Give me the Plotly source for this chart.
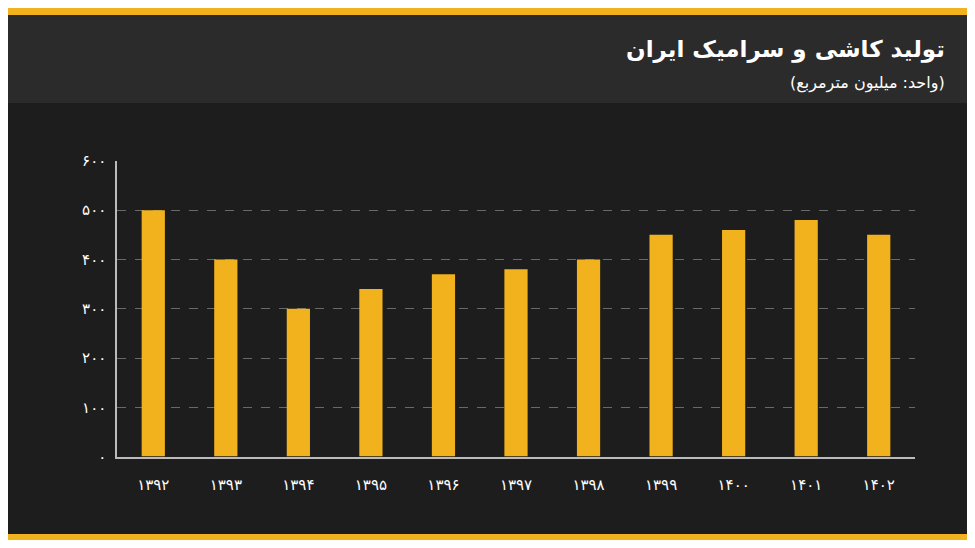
import plotly.graph_objects as go

years = ["۱۳۹۲","۱۳۹۳","۱۳۹۴","۱۳۹۵","۱۳۹۶","۱۳۹۷","۱۳۹۸","۱۳۹۹","۱۴۰۰","۱۴۰۱","۱۴۰۲"]
values = [500, 400, 300, 340, 370, 380, 400, 450, 460, 480, 450]
tick_vals = [0, 100, 200, 300, 400, 500, 600]
tick_text = ["۰","۱۰۰","۲۰۰","۳۰۰","۴۰۰","۵۰۰","۶۰۰"]

W, H = 975, 548
OFF = 8
FW, FH = W - 2 * OFF, H - 2 * OFF
def py(y): return 1 - (y - OFF) / FH
def px(x): return (x - OFF) / FW

fig = go.Figure(go.Bar(x=years, y=values, marker_color="#f2b21d", marker_line_width=0, width=0.32))

shapes = [
    dict(type="rect", xref="paper", yref="paper", x0=-0.05, x1=1.05, y0=-0.05, y1=1.05, fillcolor="#1e1d1d", line_width=0, layer="below"),
    dict(type="rect", xref="paper", yref="paper", x0=-0.05, x1=1.05, y0=py(97), y1=py(6), fillcolor="#2c2b2b", line_width=0, layer="below"),
    dict(type="rect", xref="paper", yref="paper", x0=-0.05, x1=1.05, y0=py(6), y1=1.05, fillcolor="#f2b21d", line_width=0, layer="below"),
    dict(type="rect", xref="paper", yref="paper", x0=-0.05, x1=1.05, y0=-0.05, y1=py(543), fillcolor="#f2b21d", line_width=0, layer="below"),
]

fig.update_layout(
    width=FW, height=FH, margin=dict(l=0, r=0, t=0, b=0),
    paper_bgcolor="#1e1d1d", plot_bgcolor="#2c2b2b",
    shapes=shapes, showlegend=False,
    font=dict(family="DejaVu Sans", color="#ffffff"),
    annotations=[
        dict(text="<b>تولید کاشی و سرامیک ایران</b>", xref="paper", yref="paper", x=px(947), y=py(42), xanchor="right", yanchor="middle", showarrow=False, font=dict(size=23, color="#ffffff")),
        dict(text="(واحد: میلیون مترمربع)", xref="paper", yref="paper", x=px(947), y=py(76), xanchor="right", yanchor="middle", showarrow=False, font=dict(size=16, color="#ffffff")),
    ],
    xaxis=dict(domain=[px(117), px(915)], tickfont=dict(size=15, color="#ffffff"), showline=True, linecolor="#bbbbbb", linewidth=1.5, ticks="", showgrid=False, ticklabelstandoff=14),
    yaxis=dict(domain=[py(463), py(157)], range=[0, 600], tickvals=tick_vals, ticktext=tick_text, tickfont=dict(size=15, color="#ffffff"),
               showgrid=True, gridcolor="#6a6969", griddash="dash", gridwidth=1, showline=True, linecolor="#bbbbbb", linewidth=1.5, zeroline=False, ticks="", ticklabelstandoff=6),
)
fig.write_html("out.html")
